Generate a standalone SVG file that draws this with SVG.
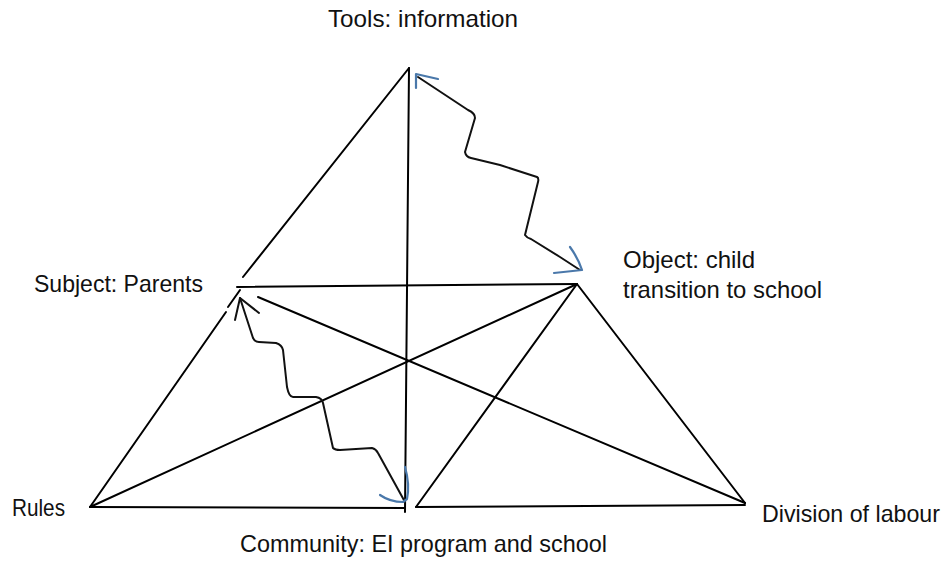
<svg xmlns="http://www.w3.org/2000/svg" width="945" height="562" viewBox="0 0 945 562">
<style>
.ln{stroke:#000;stroke-width:2;fill:none;stroke-linecap:round;stroke-linejoin:round}
.wv{stroke:#111;stroke-width:2;fill:none;stroke-linecap:round;stroke-linejoin:round}
.bl{stroke:#4a78aa;stroke-width:2.2;fill:none;stroke-linecap:round;stroke-linejoin:round}
.t{font-family:"Liberation Sans",Arial,sans-serif;font-size:24px;fill:#111}
</style>
<rect width="945" height="562" fill="#fff"/>
<g id="connectors">
<path class="ln" d="M409,68 L243,277"/>
<path class="ln" d="M237,287 L577,284"/>
<path class="ln" d="M240,290 L228,307 M226,312 L90,507"/>
<path class="ln" d="M90,507 L405,508 M416,507 L745,505"/>
<path class="ln" d="M577,284 L745,503"/>
<path class="ln" d="M577,284 L90,507"/>
<path class="ln" d="M577,284 L416,507"/>
<path class="ln" d="M258,297 L745,503"/>
<path class="ln" d="M409,68 L405,512"/>
<path class="wv" d="M418,77 L468,110 Q475,113 475,118 L465,152 Q466,157 471,158 L500,165 L537,177 Q539,178 538,182 L525,235 Q527,238 531,239 L560,257 L580,270"/>
<path class="wv" d="M240,298 L253,338 Q255,342 259,342 L276,343 Q282,345 283,350 L287,387 Q289,397 293,397 L316,397 Q322,398 323,403 L333,448 Q335,450 340,450 L372,448 Q376,449 378,453 L405,502"/>
<path class="wv" d="M235,320 L240,298 L259,313"/>
<path class="bl" d="M416,88 L416,74 L438,79"/>
<path class="bl" d="M570,247 Q578,258 582,270 L554,273"/>
<path class="bl" d="M405,467 Q410,484 407,499 L403,502 Q390,502 380,495"/>
</g>
<g id="tools"><text class="t" x="328" y="27" textLength="190" lengthAdjust="spacingAndGlyphs">Tools: information</text></g>
<g id="subject"><text class="t" x="34" y="292" textLength="169" lengthAdjust="spacingAndGlyphs">Subject: Parents</text></g>
<g id="object"><text class="t" x="623" y="268" textLength="132" lengthAdjust="spacingAndGlyphs">Object: child</text><text class="t" x="623" y="298" textLength="199" lengthAdjust="spacingAndGlyphs">transition to school</text></g>
<g id="rules"><text class="t" x="12" y="516" textLength="53" lengthAdjust="spacingAndGlyphs">Rules</text></g>
<g id="division"><text class="t" x="762" y="522" textLength="178" lengthAdjust="spacingAndGlyphs">Division of labour</text></g>
<g id="community"><text class="t" x="240" y="552" textLength="367" lengthAdjust="spacingAndGlyphs">Community: EI program and school</text></g>
</svg>
